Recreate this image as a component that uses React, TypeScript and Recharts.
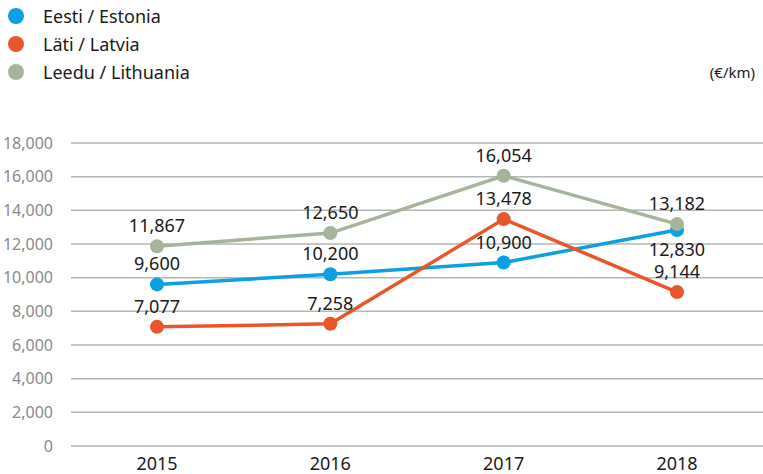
import { LineChart, Line, XAxis, YAxis, CartesianGrid } from 'recharts'

const years = ['2015', '2016', '2017', '2018']
const eesti = [9600, 10200, 10900, 12830]
const lati = [7077, 7258, 13478, 9144]
const leedu = [11867, 12650, 16054, 13182]
const yTicks = [0, 2000, 4000, 6000, 8000, 10000, 12000, 14000, 16000, 18000]

const series = [
  { key: 'eesti', name: 'Eesti / Estonia', color: '#0ba0e3', below: [3] },
  { key: 'lati', name: 'Läti / Latvia', color: '#e9562a', below: [] as number[] },
  { key: 'leedu', name: 'Leedu / Lithuania', color: '#a6b59a', below: [] as number[] },
]

const datos = years.map((y, i) => ({ year: y, eesti: eesti[i], lati: lati[i], leedu: leedu[i] }))

const fmt = (n: number) => new Intl.NumberFormat('en-US').format(n)
const font = '"Noto Sans", sans-serif'

const makeLabel = (below: number[]) => (props: any) => {
  const { x, y, value, index } = props
  const down = below.includes(index)
  return (
    <text
      x={x}
      y={down ? y + 26 : y - 14}
      textAnchor="middle"
      fill="#1a1a1a"
      fontSize={18}
      fontFamily={font}
    >
      {fmt(Number(value))}
    </text>
  )
}

export default function App() {
  return (
    <div style={{ position: 'absolute', left: 0, top: 0, width: 763, height: 474, background: '#fff' }}>
      <div style={{ position: 'absolute', left: 0, top: 2, fontFamily: font, fontSize: 18, color: '#1a1a1a' }}>
        {series.map((s) => (
          <div key={s.key} style={{ display: 'flex', alignItems: 'center', height: 28 }}>
            <span
              style={{
                display: 'inline-block',
                width: 16,
                height: 16,
                borderRadius: 8,
                background: s.color,
                marginLeft: 8,
                marginRight: 19,
              }}
            />
            {s.name}
          </div>
        ))}
      </div>
      <div
        style={{
          position: 'absolute',
          right: 8,
          top: 62,
          fontFamily: font,
          fontSize: 15,
          color: '#1a1a1a',
        }}
      >
        (€/km)
      </div>
      <LineChart width={763} height={474} data={datos} margin={{ top: 143, right: 0, left: 0, bottom: 0 }}>
        <CartesianGrid vertical={false} stroke="#b5b5b5" strokeWidth={1.5} />
        <XAxis
          dataKey="year"
          axisLine={false}
          tickLine={false}
          height={28}
          padding={{ left: 86, right: 86 }}
          tick={{ fill: '#1a1a1a', fontSize: 18, fontFamily: font }}
          tickMargin={5}
        />
        <YAxis
          domain={[0, 18000]}
          ticks={yTicks}
          interval={0}
          width={71}
          axisLine={false}
          tickLine={false}
          tickFormatter={(v) => fmt(v)}
          tick={{ fill: '#8a8a8a', fontSize: 16, fontFamily: font }}
          tickMargin={12}
        />
        {series.map((s) => (
          <Line
            key={s.key}
            dataKey={s.key}
            name={s.name}
            stroke={s.color}
            strokeWidth={3.5}
            dot={{ r: 7, fill: s.color, stroke: s.color, strokeWidth: 0 }}
            label={makeLabel(s.below)}
            isAnimationActive={false}
          />
        ))}
      </LineChart>
    </div>
  )
}
